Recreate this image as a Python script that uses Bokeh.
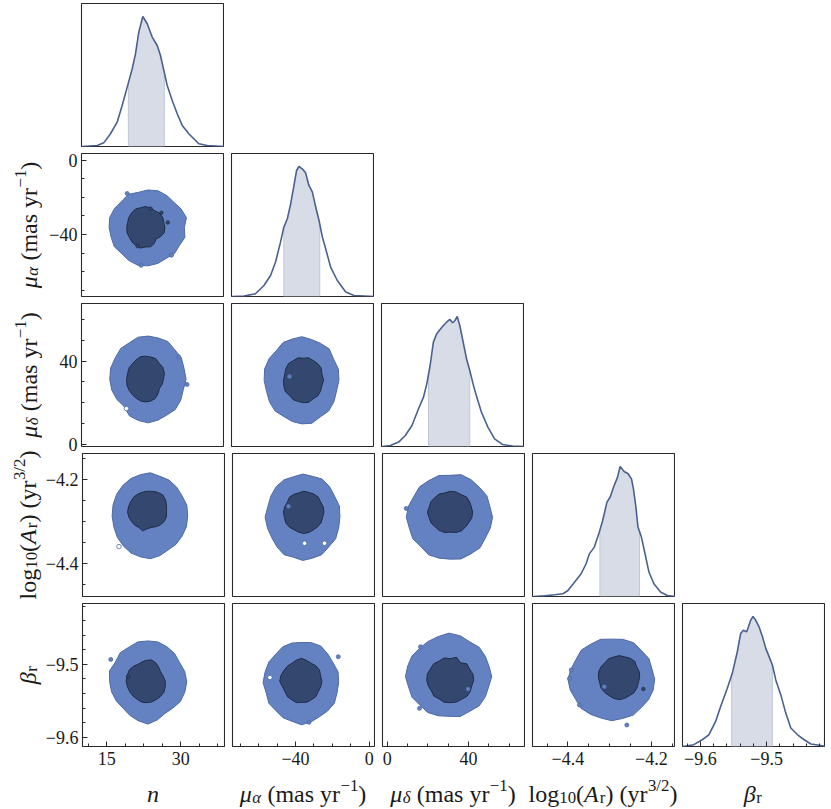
import numpy as np
from bokeh.plotting import figure
from bokeh.models import Range1d, FixedTicker, CustomJSTickFormatter
from bokeh.layouts import column, row
from bokeh.embed import file_html
from bokeh.resources import INLINE
from bokeh.core.properties import value

PARAMS = ["n", "mua", "mud", "logA", "beta"]

# ---------------- 1D marginals (peak normalised to 1) ----------------
N_X = [10.24, 13.28, 14.62, 15.98, 17.34, 18.35, 19.37, 20.38, 21.05, 21.72, 22.53, 23.43,
       24.44, 25.46, 26.12, 26.8, 27.48, 28.5, 29.51, 30.53, 31.86, 33.89, 35.6, 39.1]
N_Y = [0.0, 0.008, 0.028, 0.098, 0.188, 0.315, 0.457, 0.598, 0.713, 0.88, 1.0, 0.944,
       0.842, 0.777, 0.70, 0.585, 0.469, 0.354, 0.252, 0.162, 0.098, 0.021, 0.008, 0.0]
MUA_X = [-73.8, -67.5, -61.2, -56.6, -53.0, -50.3, -47.6, -45.8, -43.9, -42.1, -40.3, -38.9, -37.6,
         -35.8, -34.0, -32.2, -30.3, -28.5, -26.7, -24.9, -23.1, -20.4, -16.8, -12.2, -7.7, 3.4]
MUA_Y = [0.0, 0.003, 0.021, 0.085, 0.162, 0.265, 0.418, 0.534, 0.598, 0.713, 0.854, 0.969, 1.0,
         0.982, 0.952, 0.854, 0.803, 0.688, 0.585, 0.457, 0.367, 0.226, 0.123, 0.034, 0.008, 0.0]
MUD_X = [-1.96, 2.09, 6.14, 9.4, 12.68, 15.9, 18.35, 19.97, 21.6, 23.2, 24.85, 26.5, 28.1, 30.04, 31.36,
         32.65, 33.8, 34.92, 36.2, 37.85, 39.5, 41.1, 42.7, 44.3, 46.8, 50.0, 53.3, 57.3, 62.2, 67.9]
MUD_Y = [0.0, 0.008, 0.034, 0.085, 0.162, 0.29, 0.38, 0.482, 0.623, 0.803, 0.867, 0.9, 0.931, 0.962, 0.977,
         0.952, 0.969, 1.0, 0.931, 0.803, 0.675, 0.585, 0.482, 0.392, 0.265, 0.149, 0.059, 0.015, 0.003, 0.0]
LOG_X = [-4.4819, -4.4557, -4.4319, -4.4119, -4.4, -4.3843, -4.3683, -4.3564, -4.3486, -4.3367,
         -4.3248, -4.3167, -4.3064, -4.2986, -4.2905, -4.281, -4.2748, -4.2652, -4.2557, -4.2476,
         -4.2429, -4.2374, -4.232, -4.2238, -4.216, -4.2057, -4.1938, -4.1779, -4.1619, -4.1421]
LOG_Y = [0.0, 0.005, 0.013, 0.021, 0.046, 0.11, 0.175, 0.252, 0.328, 0.38,
         0.495, 0.585, 0.726, 0.765, 0.842, 0.918, 1.0, 0.962, 0.944, 0.905,
         0.828, 0.70, 0.534, 0.457, 0.342, 0.188, 0.098, 0.034, 0.008, 0.0]
BETA_X = [-9.6265, -9.6099, -9.5972, -9.5872, -9.577, -9.5694, -9.5593, -9.5518, -9.5442, -9.5391,
          -9.5351, -9.5300, -9.524, -9.5205, -9.5164, -9.5114, -9.5062, -9.5012, -9.4962, -9.4912,
          -9.4861, -9.4785, -9.471, -9.4634, -9.4532, -9.4432, -9.4331, -9.4205, -9.411]
BETA_Y = [0.0, 0.014, 0.052, 0.09, 0.193, 0.308, 0.448, 0.563, 0.729, 0.87,
          0.895, 0.883, 0.972, 1.0, 0.972, 0.921, 0.844, 0.755, 0.691, 0.627,
          0.512, 0.397, 0.257, 0.142, 0.09, 0.052, 0.019, 0.009, 0.0]

# shaded credible intervals
SHADE_N = [19.6, 26.9]
SHADE_MUA = [-45.8, -26.3]
SHADE_MUD = [20.8, 41.1]
SHADE_LOG = [-4.3233, -4.2283]
SHADE_BETA = [-9.5528, -9.4912]

# ---------------- axes ----------------
X_LIM = {"n": (10.1, 39.1), "mua": (-74.2, 3.4), "mud": (-2.3, 68.0),
         "logA": (-4.485, -4.142), "beta": (-9.627, -9.411)}
Y_LIM = {"mua": (-73.3, 3.6), "mud": (-1.1, 67.8),
         "logA": (-4.479, -4.138), "beta": (-9.613, -9.416)}
MAJOR = {"n": [15, 30], "mua": [-40, 0], "mud": [0, 40],
         "logA": [-4.4, -4.2], "beta": [-9.6, -9.5]}
MINOR = {"n": [11.25, 18.75, 22.5, 26.25, 33.75, 37.5],
         "mua": [-70, -60, -50, -30, -20, -10],
         "mud": [10, 20, 30, 50, 60],
         "logA": [-4.45, -4.35, -4.3, -4.25, -4.15],
         "beta": [-9.62, -9.58, -9.56, -9.54, -9.52, -9.48, -9.46, -9.44, -9.42]}
DIGITS = {"n": 0, "mua": 0, "mud": 0, "logA": 1, "beta": 1}

# ---------------- 2D credible contours ----------------
HALF_OUT = {"n": 7.9, "mua": 20.5, "mud": 21.0, "logA": 0.103, "beta": 0.057}
HALF_IN = {"n": 3.9, "mua": 11.0, "mud": 11.0, "logA": 0.05, "beta": 0.03}

# centres: outer cx, cy, inner cx, cy ; radii multipliers every 15 deg (CCW from +x)
C_10 = [23.6, -36.3, 23.1, -36.2]
R_10_OUT = [0.93, 1.02, 0.98, 0.94, 0.97, 1.0, 0.99, 0.96, 1.01, 0.97, 1.0, 1.02,
            1.0, 0.98, 1.0, 0.96, 0.99, 1.02, 1.0, 0.97, 0.93, 0.96, 0.93, 0.98]
R_10_IN = [1.0, 0.98, 1.02, 1.0, 0.95, 0.98, 1.03, 1.0, 1.05, 1.02, 1.0, 0.97,
           0.98, 1.0, 0.97, 1.0, 1.02, 1.04, 0.95, 0.98, 0.9, 0.78, 0.9, 1.0]
C_20 = [23.65, 31.3, 23.15, 31.4]
R_20_OUT = [0.97, 0.95, 0.98, 0.96, 1.0, 0.98, 0.99, 1.0, 0.97, 1.0, 0.98, 1.0,
            0.99, 0.97, 0.93, 0.88, 0.97, 0.98, 1.0, 0.97, 0.95, 0.98, 0.96, 0.93]
R_20_IN = [0.92, 1.0, 1.02, 0.98, 1.03, 1.0, 1.0, 1.02, 0.98, 0.97, 1.0, 0.98,
           1.0, 1.02, 1.0, 0.98, 0.98, 1.0, 1.0, 1.0, 0.98, 0.9, 0.82, 0.88]
C_21 = [-36.0, 30.8, -35.2, 31.0]
R_21_OUT = [0.98, 1.0, 0.97, 1.02, 0.98, 0.97, 1.0, 0.98, 1.0, 0.96, 1.0, 1.02,
            1.0, 0.97, 0.99, 1.0, 0.96, 0.98, 1.0, 1.02, 0.97, 1.0, 0.98, 0.95]
R_21_IN = [1.0, 0.95, 1.02, 1.0, 0.98, 1.0, 0.95, 1.0, 0.98, 1.02, 1.0, 0.95,
           0.98, 1.0, 1.03, 0.97, 1.0, 0.98, 1.0, 1.02, 0.96, 1.0, 0.98, 0.95]
C_30 = [23.85, -4.287, 23.25, -4.2765]
R_30_OUT = [0.96, 0.97, 0.94, 0.95, 0.96, 0.95, 1.0, 0.99, 1.0, 1.0, 1.0, 0.99,
            0.98, 0.97, 0.98, 0.98, 0.99, 0.98, 0.99, 0.95, 0.91, 0.93, 0.94, 0.96]
R_30_IN = [1.0, 1.03, 1.1, 1.13, 1.06, 1.0, 0.97, 0.96, 0.97, 0.99, 0.99, 1.0,
           1.03, 1.0, 0.95, 0.92, 0.88, 0.95, 0.82, 0.78, 0.84, 0.92, 0.99, 1.02]
C_31 = [-36.0, -4.29, -35.6, -4.278]
R_31_OUT = [0.98, 1.0, 0.97, 1.0, 1.02, 0.98, 1.0, 0.97, 1.0, 1.0, 0.98, 0.96,
            1.0, 0.97, 0.95, 0.97, 1.0, 0.96, 1.0, 0.98, 1.0, 0.97, 1.0, 0.98]
R_31_IN = [1.0, 1.0, 0.97, 1.02, 1.0, 0.98, 1.0, 0.95, 0.98, 1.0, 0.93, 0.97,
           1.0, 0.98, 1.02, 1.0, 0.96, 0.98, 1.02, 1.0, 0.97, 0.98, 1.0, 0.97]
C_32 = [30.8, -4.29, 31.0, -4.278]
R_32_OUT = [1.0, 0.97, 1.0, 0.98, 1.0, 1.02, 0.97, 1.0, 0.98, 1.0, 0.97, 1.0,
            1.02, 0.98, 1.0, 0.96, 1.0, 0.98, 0.97, 1.0, 0.98, 1.0, 0.96, 0.98]
R_32_IN = [1.0, 0.98, 1.0, 1.03, 0.97, 1.0, 1.0, 0.95, 1.0, 0.98, 1.0, 0.97,
           1.02, 0.98, 1.0, 0.97, 1.0, 1.0, 0.95, 1.0, 1.02, 0.98, 0.97, 1.0]
C_40 = [23.35, -9.524, 23.05, -9.5227]
R_40_OUT = [1.0, 0.98, 0.94, 0.97, 0.98, 1.0, 0.99, 1.0, 0.97, 1.0, 0.96, 1.02,
            0.98, 0.96, 0.93, 0.9, 0.93, 0.97, 1.02, 0.95, 0.88, 0.9, 0.96, 0.98]
R_40_IN = [0.98, 0.9, 0.85, 0.9, 0.97, 1.0, 0.95, 0.9, 0.88, 0.95, 1.02, 1.03,
           1.05, 1.02, 1.0, 0.98, 0.97, 1.0, 1.0, 1.0, 1.0, 1.02, 1.05, 1.02]
C_41 = [-36.7, -9.525, -36.7, -9.523]
R_41_OUT = [0.98, 1.0, 0.96, 0.98, 1.02, 1.0, 0.97, 0.99, 1.0, 0.97, 1.0, 1.0,
            1.02, 0.97, 1.0, 0.96, 0.98, 0.97, 1.02, 0.98, 0.95, 0.97, 1.0, 0.97]
R_41_IN = [1.0, 0.97, 1.02, 1.0, 0.95, 0.98, 1.05, 1.0, 0.95, 0.98, 1.0, 1.05,
           1.08, 0.98, 0.95, 1.0, 0.98, 1.02, 0.97, 1.0, 0.98, 1.0, 0.95, 0.98]
C_42 = [30.4, -9.5167, 31.0, -9.5214]
R_42_OUT = [1.0, 0.97, 0.98, 1.0, 0.97, 1.02, 1.05, 1.0, 0.98, 0.97, 1.0, 1.0,
            1.02, 0.98, 1.0, 0.97, 1.0, 0.98, 0.96, 1.0, 0.97, 1.0, 0.98, 0.96]
R_42_IN = [1.05, 1.05, 1.0, 1.05, 0.92, 1.08, 0.98, 1.05, 1.0, 1.05, 1.02, 1.06,
           1.05, 1.02, 0.98, 1.04, 1.0, 1.06, 1.04, 1.05, 1.02, 1.06, 1.04, 1.0]
C_43 = [-4.295, -9.5204, -4.277, -9.5178]
R_43_OUT = [1.0, 0.97, 1.0, 0.98, 1.02, 1.0, 0.97, 1.0, 0.98, 1.0, 0.96, 0.98,
            1.02, 1.0, 0.97, 1.0, 0.98, 0.97, 1.0, 0.98, 1.0, 0.97, 0.99, 1.0]
R_43_IN = [0.98, 1.0, 0.97, 1.05, 1.02, 0.98, 1.0, 0.97, 1.0, 0.96, 1.0, 1.02,
           1.0, 0.97, 1.0, 0.98, 0.97, 1.0, 1.02, 1.0, 0.97, 1.0, 0.98, 0.95]

# small isolated contour islands: x, y, kind ('o' light, 'i' dark, 'h' hole)
ISL_10 = [(19.37, -17.9, "o"), (24.1, -26.0, "i"), (26.3, -28.3, "i"), (27.6, -33.5, "i"),
          (21.5, -46.2, "i"), (28.35, -51.1, "o"), (22.2, -56.5, "o")]
ISL_20 = [(29.8, 42.1, "o"), (19.2, 17.2, "h"), (31.5, 28.8, "o")]
ISL_21 = [(-42.7, 32.6, "o")]
ISL_30 = [(17.5, -4.36, "h")]
ISL_31 = [(-35.1, -4.352, "h"), (-24.3, -4.352, "h"), (-43.8, -4.264, "o")]
ISL_32 = [(9.4, -4.269, "o")]
ISL_40 = [(15.84, -9.493, "o"), (19.37, -9.5168, "i")]
ISL_41 = [(-53.9, -9.518, "h"), (-16.8, -9.4893, "o"), (-32.7, -9.5797, "o")]
ISL_42 = [(16.4, -9.4756, "o"), (15.9, -9.5604, "o"), (39.8, -9.5339, "o")]
ISL_43 = [(-4.3962, -9.5192, "o"), (-4.3921, -9.5077, "o"), (-4.3724, -9.5559, "o"),
          (-4.2588, -9.5834, "o"), (-4.219, -9.5339, "i"), (-4.3129, -9.5306, "o")]

# axis label texts: (text, scale, italic, baseline shift in em)
LAB_N = [("n", 1.0, True, 0.0)]
LAB_MUA = [("μ", 1.0, True, 0.0), ("α", 0.7, True, -0.16), (" (mas yr", 1.0, False, 0.0),
           ("\u22121", 0.7, False, 0.34), (")", 1.0, False, 0.0)]
LAB_MUD = [("μ", 1.0, True, 0.0), ("δ", 0.7, True, -0.16), (" (mas yr", 1.0, False, 0.0),
           ("\u22121", 0.7, False, 0.34), (")", 1.0, False, 0.0)]
LAB_LOG = [("log", 1.0, False, 0.0), ("10", 0.7, False, -0.16), ("(", 1.0, False, 0.0),
           ("A", 1.0, True, 0.0), ("r", 0.7, False, -0.16), (")", 1.0, False, 0.0),
           (" (yr", 1.0, False, 0.0), ("3/2", 0.7, False, 0.34), (")", 1.0, False, 0.0)]
LAB_BETA = [("β", 1.0, True, 0.0), ("r", 0.7, False, -0.16)]

# ---------------- assemble ----------------
KDE = {"n": (N_X, N_Y), "mua": (MUA_X, MUA_Y), "mud": (MUD_X, MUD_Y),
       "logA": (LOG_X, LOG_Y), "beta": (BETA_X, BETA_Y)}
SHADE = {"n": SHADE_N, "mua": SHADE_MUA, "mud": SHADE_MUD, "logA": SHADE_LOG, "beta": SHADE_BETA}
CONT = {(1, 0): (C_10, R_10_OUT, R_10_IN, ISL_10), (2, 0): (C_20, R_20_OUT, R_20_IN, ISL_20),
        (2, 1): (C_21, R_21_OUT, R_21_IN, ISL_21), (3, 0): (C_30, R_30_OUT, R_30_IN, ISL_30),
        (3, 1): (C_31, R_31_OUT, R_31_IN, ISL_31), (3, 2): (C_32, R_32_OUT, R_32_IN, ISL_32),
        (4, 0): (C_40, R_40_OUT, R_40_IN, ISL_40), (4, 1): (C_41, R_41_OUT, R_41_IN, ISL_41),
        (4, 2): (C_42, R_42_OUT, R_42_IN, ISL_42), (4, 3): (C_43, R_43_OUT, R_43_IN, ISL_43)}
LABELS = {"n": LAB_N, "mua": LAB_MUA, "mud": LAB_MUD, "logA": LAB_LOG, "beta": LAB_BETA}
YLAB_BASE = {"mua": 28, "mud": 28, "logA": 27, "beta": 27}

FONT = "Liberation Serif"
TEXT_C = "#1a1a1a"
FRAME_C = "#2a2a2a"
OUT_FILL, OUT_LINE = "#6482c2", "#4d6aa6"
IN_FILL, IN_LINE = "#33476f", "#1f2c47"
KDE_LINE = "#4a6090"
SHADE_FILL, SHADE_EDGE = "#d7dce6", "#bfc7d7"

FW, FH = 143, 143
GAP = 7
OVL = 8              # extra transparent border shared (overlapped) by neighbouring rows
TOP = 3
YLAB_W = 42
LEFT = 39
BOTTOM = 36
TICK_FS = 18
LAB_FS = 24
GRID_H = TOP + 4 * (FH + GAP) + FH + BOTTOM
GRID_W = YLAB_W + LEFT + 5 * FW + 4 * GAP
XLAB_TOP = 770       # page y where the x-label strip starts (overlaps tick area)
XLAB_H = 809 - XLAB_TOP
XLAB_BASELINE = 793  # page y of label baseline

CW = {' ': 0.25, '(': 0.333, ')': 0.333, 'm': 0.778, 'a': 0.444, 's': 0.389, 'y': 0.5, 'r': 0.35,
      '\u2212': 0.564, '1': 0.5, 'l': 0.278, 'o': 0.5, 'g': 0.5, '0': 0.5, 'A': 0.65, '3': 0.5,
      '/': 0.278, '2': 0.5, 'n': 0.5, 'μ': 0.52, 'α': 0.55, 'δ': 0.47, 'β': 0.52}


def pw(t, sc):
    return sum(CW.get(c, 0.5) for c in t) * LAB_FS * sc


def style_axis(ax, key):
    ax.ticker = FixedTicker(ticks=MAJOR[key], minor_ticks=MINOR[key])
    ax.formatter = CustomJSTickFormatter(
        code="const s = Math.abs(tick).toFixed(%d); return (tick < -1e-9 ? '\\u2212' : '') + s;" % DIGITS[key])
    ax.major_tick_in = 5
    ax.major_tick_out = 0
    ax.minor_tick_in = 3
    ax.minor_tick_out = 0
    ax.major_tick_line_color = FRAME_C
    ax.minor_tick_line_color = FRAME_C
    ax.axis_line_color = None
    ax.major_label_text_font = FONT
    ax.major_label_text_font_size = "%dpx" % TICK_FS
    ax.major_label_text_color = TEXT_C


def blank_fig(w, h):
    f = figure(width=w, height=h, x_range=Range1d(0, w), y_range=Range1d(0, h),
               output_backend="svg", toolbar_location=None, tools="", min_border=0,
               x_axis_location=None, y_axis_location=None)
    f.outline_line_color = None
    f.grid.grid_line_color = None
    f.background_fill_color = None
    f.border_fill_color = None
    return f


def draw_label(f, key, cx, cy, rotated):
    pcs = LABELS[key]
    total = sum(pw(t, sc) for t, sc, it, sh in pcs)
    cur = -total / 2
    for t, sc, it, sh in pcs:
        txt = t.lstrip(" ")
        lead = pw(t[:len(t) - len(txt)], sc)
        if rotated:
            x, y, ang = cx - sh * LAB_FS, cy + cur + lead, np.pi / 2
        else:
            x, y, ang = cx + cur + lead, cy + sh * LAB_FS, 0.0
        f.text(x=[x], y=[y], text=[txt], angle=ang, text_font=value(FONT),
               text_font_size=value("%.1fpx" % (LAB_FS * sc)),
               text_font_style=value("italic" if it else "normal"),
               text_align=value("left"), text_baseline=value("alphabetic"), text_color=TEXT_C)
        cur += pw(t, sc)


def blob(cx, cy, hx, hy, r):
    th = np.deg2rad(np.arange(len(r)) * 360.0 / len(r))
    r = np.asarray(r)
    return cx + hx * r * np.cos(th), cy + hy * r * np.sin(th)


def make_panel(i, j):
    xk = PARAMS[j]
    yk = PARAMS[i]
    xr = Range1d(*X_LIM[xk])
    yr = Range1d(0, 1.1) if i == j else Range1d(*Y_LIM[yk])
    p = figure(frame_width=FW, frame_height=FH, x_range=xr, y_range=yr,
               output_backend="svg", toolbar_location=None, tools="",
               x_axis_location="below" if i == 4 else None,
               y_axis_location="left" if (j == 0 and i > 0) else None,
               min_border_left=LEFT if j == 0 else GAP, min_border_right=0,
               min_border_top=TOP if i == 0 else OVL,
               min_border_bottom=BOTTOM if i == 4 else GAP + OVL)
    p.outline_line_color = FRAME_C
    p.outline_line_width = 1.1
    p.grid.grid_line_color = None
    p.background_fill_color = "white"
    p.border_fill_color = None
    if i == 4:
        style_axis(p.xaxis[0], xk)
        p.xaxis[0].major_label_standoff = 5
    if j == 0 and i > 0:
        style_axis(p.yaxis[0], yk)
        p.yaxis[0].major_label_standoff = 4

    if i == j:
        x = np.array(KDE[xk][0])
        y = np.array(KDE[xk][1])
        lo, hi = SHADE[xk]
        m = (x > lo) & (x < hi)
        ylo, yhi = np.interp(lo, x, y), np.interp(hi, x, y)
        xs = np.concatenate([[lo], x[m], [hi]])
        ys = np.concatenate([[ylo], y[m], [yhi]])
        p.varea(x=xs, y1=np.zeros_like(ys), y2=ys, fill_color=SHADE_FILL)
        p.segment(x0=[lo, hi], y0=[0, 0], x1=[lo, hi], y1=[ylo, yhi],
                  line_color=SHADE_EDGE, line_width=1)
        p.line(x, y, line_color=KDE_LINE, line_width=1.6)
    else:
        c, ro, ri, isl = CONT[(i, j)]
        xo, yo = blob(c[0], c[1], HALF_OUT[xk], HALF_OUT[yk], ro)
        xi, yi = blob(c[2], c[3], HALF_IN[xk], HALF_IN[yk], ri)
        p.patch(xo, yo, fill_color=OUT_FILL, line_color=OUT_LINE, line_width=1)
        p.patch(xi, yi, fill_color=IN_FILL, line_color=IN_LINE, line_width=1)
        for (ix, iy, kind) in isl:
            if kind == "o":
                p.scatter([ix], [iy], size=4, fill_color=OUT_FILL, line_color=OUT_LINE, line_width=0.8)
            elif kind == "i":
                p.scatter([ix], [iy], size=3.5, fill_color=IN_FILL, line_color=IN_LINE, line_width=0.8)
            else:
                p.scatter([ix], [iy], size=4.5, fill_color="white", line_color=OUT_LINE, line_width=0.8)
    return p


# y-axis label strip (left)
ylab = blank_fig(YLAB_W, GRID_H)
for i in range(1, 5):
    cy = GRID_H - (TOP + i * (FH + GAP) + FH / 2.0)
    draw_label(ylab, PARAMS[i], YLAB_BASE[PARAMS[i]], cy, True)

# x-axis label strip (bottom), pulled up over the tick-label margin of the last row
xlab = blank_fig(GRID_W, XLAB_H)
xlab.margin = (XLAB_TOP - GRID_H, 0, 0, 0)
for j in range(5):
    cx = YLAB_W + LEFT + j * (FW + GAP) + FW / 2.0
    draw_label(xlab, PARAMS[j], cx, XLAB_H - (XLAB_BASELINE - XLAB_TOP), False)

rows = []
for i in range(5):
    r = row(*[make_panel(i, j) for j in range(i + 1)])
    if i > 0:
        r.margin = (-2 * OVL, 0, 0, 0)
    rows.append(r)
grid = column(*rows)
layout = column(row(ylab, grid), xlab)

open("out.html", "w").write(file_html(layout, INLINE))
